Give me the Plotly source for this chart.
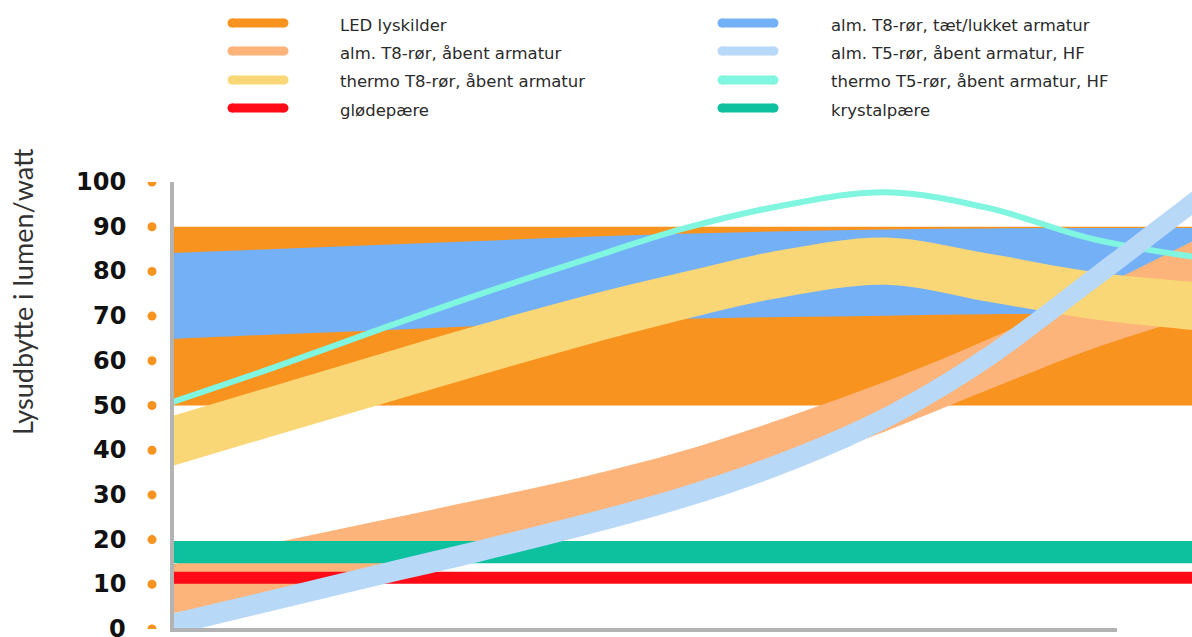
import plotly.graph_objects as go

# ---------------- data ----------------
x_pos = [0, 10, 20, 30, 40, 50, 60, 70, 80, 90, 100]

led_low = [50, 50, 50, 50, 50, 50, 50, 50, 50, 50, 50]
led_high = [90, 90, 90, 90, 90, 90, 90, 90, 90, 90, 90]

t8_closed_low = [64.9, 65.9, 66.8, 67.8, 68.7, 69.4, 69.8, 70.1, 70.4, 70.5, 70.5]
t8_closed_high = [84.1, 85.0, 85.9, 86.8, 87.7, 88.4, 89.0, 89.4, 89.6, 89.7, 89.7]

t8_open_low = [3.5, 7.8, 12.3, 17.2, 22.7, 29.0, 36.0, 44.3, 53.5, 62.5, 69.8]
t8_open_high = [14.5, 19.3, 24.1, 28.9, 33.9, 39.8, 47.2, 55.4, 64.8, 75.4, 86.7]

thermo_t8_low = [36.5, 43.3, 50.0, 56.7, 63.2, 69.2, 74.3, 77.0, 73.2, 69.4, 66.9]
thermo_t8_high = [47.7, 54.5, 61.3, 68.0, 74.3, 79.8, 84.9, 87.6, 84.0, 80.0, 77.7]

t5_open_low = [-1.3, 4.2, 9.7, 15.0, 20.7, 27.0, 34.8, 44.8, 58.3, 75.2, 92.6]
t5_open_high = [3.5, 8.9, 14.4, 19.8, 25.5, 31.8, 39.7, 49.8, 63.5, 80.5, 97.9]

thermo_t5 = [50.8, 58.6, 66.8, 74.8, 82.3, 89.5, 94.8, 97.7, 94.2, 87.4, 83.3]

krystal_low = [14.7] * 11
krystal_high = [19.7] * 11

gloed_low = [10.1] * 11
gloed_high = [12.8] * 11

y_ticks = [0, 10, 20, 30, 40, 50, 60, 70, 80, 90, 100]
y_tick_labels = ["0", "10", "20", "30", "40", "50", "60", "70", "80", "90", "100"]

legend_col1 = ["LED lyskilder", "alm. T8-rør, åbent armatur",
               "thermo T8-rør, åbent armatur", "glødepære"]
legend_col2 = ["alm. T8-rør, tæt/lukket armatur", "alm. T5-rør, åbent armatur, HF",
               "thermo T5-rør, åbent armatur, HF", "krystalpære"]

# ---------------- styles ----------------
C_LED = "#F7931E"
C_T8C = "#74B0F5"
C_T8O = "#FDB47A"
C_TT8 = "#F9D776"
C_RED = "#FF0A17"
C_T5O = "#B8D8F8"
C_TT5 = "#80F5DF"
C_GRN = "#0DC19E"

colors_col1 = [C_LED, C_T8O, C_TT8, C_RED]
colors_col2 = [C_T8C, C_T5O, C_TT5, C_GRN]

W, H = 1192, 637
ML, MR, MT, MB = 173, 0, 182, 8
PW = W - ML - MR
PH = H - MT - MB


def px_x(px):
    return (px - ML) / PW


def px_y(py):
    return (H - MB - py) / PH


fig = go.Figure()


def band(low, high, color, shape="spline"):
    fig.add_trace(go.Scatter(x=x_pos, y=low, mode="lines", line=dict(width=0, color=color, shape=shape),
                             hoverinfo="skip", showlegend=False))
    fig.add_trace(go.Scatter(x=x_pos, y=high, mode="lines", line=dict(width=0, color=color, shape=shape),
                             fill="tonexty", fillcolor=color, hoverinfo="skip", showlegend=False))


band(led_low, led_high, C_LED, "linear")
band(t8_closed_low, t8_closed_high, C_T8C)
band(t8_open_low, t8_open_high, C_T8O)
band(thermo_t8_low, thermo_t8_high, C_TT8)
band(krystal_low, krystal_high, C_GRN, "linear")
band(gloed_low, gloed_high, C_RED, "linear")
fig.add_trace(go.Scatter(x=x_pos, y=thermo_t5, mode="lines",
                         line=dict(width=6, color=C_TT5, shape="spline"),
                         hoverinfo="skip", showlegend=False))
band(t5_open_low, t5_open_high, C_T5O)

shapes = []
annotations = []

# tick labels and orange tick dots (placed on the y scale)
for v, lab in zip(y_ticks, y_tick_labels):
    shapes.append(dict(type="circle", xref="paper", yref="y",
                       xsizemode="pixel", ysizemode="pixel",
                       xanchor=px_x(152), yanchor=v,
                       x0=-4.5, x1=4.5, y0=-4.5, y1=4.5,
                       fillcolor=C_LED, line=dict(width=0)))
    annotations.append(dict(text=lab, xref="paper", yref="y",
                            x=px_x(128), y=v, xanchor="right", yanchor="middle",
                            showarrow=False,
                            font=dict(family="DejaVu Sans", size=24, color="#111111", weight="bold")))

# axis lines
shapes.append(dict(type="line", xref="paper", yref="paper",
                   x0=px_x(172), x1=px_x(172), y0=px_y(182), y1=px_y(631),
                   line=dict(color="#B3B3B3", width=4)))
shapes.append(dict(type="line", xref="paper", yref="paper",
                   x0=px_x(170), x1=px_x(1117), y0=px_y(630), y1=px_y(630),
                   line=dict(color="#B3B3B3", width=4)))

rows_y = [23, 51, 80, 108]
for labels, cols, sx0, sx1, tx in [
        (legend_col1, colors_col1, 232, 284, 338),
        (legend_col2, colors_col2, 722, 774, 829)]:
    for lab, c, ry in zip(labels, cols, rows_y):
        shapes.append(dict(type="line", xref="paper", yref="paper",
                           x0=px_x(sx0), x1=px_x(sx1), y0=px_y(ry), y1=px_y(ry),
                           line=dict(color=c, width=9)))
        for cx in (sx0, sx1):
            shapes.append(dict(type="circle", xref="paper", yref="paper",
                               x0=px_x(cx - 4.5), x1=px_x(cx + 4.5),
                               y0=px_y(ry - 4.5), y1=px_y(ry + 4.5),
                               fillcolor=c, line=dict(width=0)))
        annotations.append(dict(text=lab, xref="paper", yref="paper",
                                x=px_x(tx), y=px_y(ry + 2), xanchor="left", yanchor="middle",
                                showarrow=False,
                                font=dict(family="DejaVu Sans", size=16.5, color="#2B2B2B")))

annotations.append(dict(text="Lysudbytte i lumen/watt", xref="paper", yref="paper",
                        x=px_x(22), y=px_y(292), xanchor="center", yanchor="middle",
                        textangle=-90, showarrow=False,
                        font=dict(family="Lato", size=27, color="#333333")))

fig.update_layout(
    width=W, height=H,
    margin=dict(l=ML, r=MR, t=MT, b=MB, pad=0),
    paper_bgcolor="white", plot_bgcolor="white",
    shapes=shapes, annotations=annotations,
    showlegend=False,
    xaxis=dict(range=[x_pos[0], x_pos[-1]], visible=False, showgrid=False, zeroline=False),
    yaxis=dict(range=[0, 100], showgrid=False, zeroline=False, showline=False,
               showticklabels=False, ticks=""),
)

fig.write_html("out.html", config={"displayModeBar": False},
               post_script="document.body.style.margin='0px';document.body.style.overflow='hidden';")
